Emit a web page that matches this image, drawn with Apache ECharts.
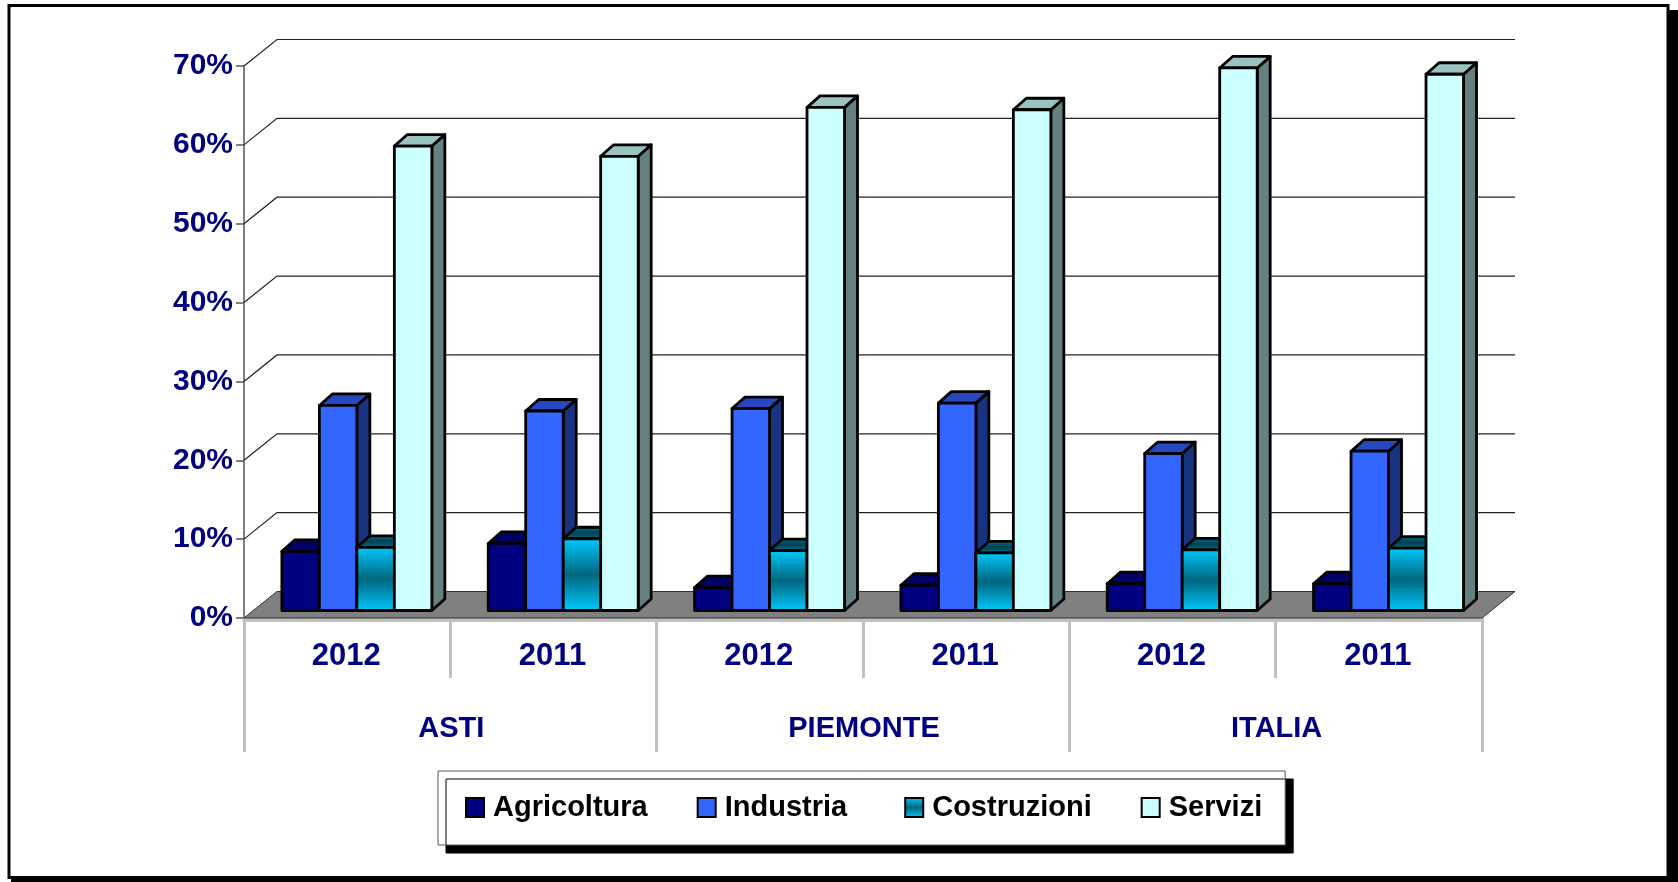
<!DOCTYPE html>
<html><head><meta charset="utf-8">
<style>html,body{margin:0;padding:0;background:#fff}#c{width:1678px;height:882px}</style>
<script src="https://cdn.jsdelivr.net/npm/echarts@6/dist/echarts.min.js"></script>
</head><body><div id="c"></div>
<script>
const years = ['2012','2011','2012','2011','2012','2011'];
const areas = ['ASTI','PIEMONTE','ITALIA'];
const yTicks = [0,10,20,30,40,50,60,70];
const agricoltura = [7.5,8.5,2.9,3.2,3.4,3.4];
const industria = [26.0,25.3,25.6,26.3,19.9,20.2];
const costruzioni = [8.0,9.1,7.6,7.3,7.7,7.9];
const servizi = [58.9,57.6,63.8,63.5,68.8,68.0];

const NAVY='#000080', BK='#000000', FONT='Liberation Sans';
const wall={dx:33,dy:-26.5}, barDepth={dx:13,dy:-11.5}, barShift={dx:9.7,dy:-7.5};
const grad=(a,b)=>({type:'linear',x:0,y:0,x2:0,y2:1,colorStops:[{offset:0,color:a},{offset:.5,color:b},{offset:1,color:a}]});
const front=['#000080','#3366FF',grad('#00CCFF','#00667F'),'#CCFFFF'];
const topFace=['#000066','#2648C0',grad('#007A99','#004050'),'#99C2C0'];
const sideFace=['#000050','#1A3380','#00404F','#668080'];

function barSeries(name,values,idx){
  return {type:'custom',name,coordinateSystem:'cartesian2d',clip:false,xAxisIndex:0,z:3,
    data:values.map((v,i)=>[i,v]),encode:{x:0,y:1},
    itemStyle:{color:front[idx],borderColor:BK,borderWidth:2.8},
    renderItem(params,api){
      const p=api.coord([api.value(0),api.value(1)]), b=api.coord([api.value(0),0]);
      const band=api.size([1,0])[0], w=band*0.1817;
      const x0=p[0]+barShift.dx+(idx-2)*w, x1=x0+w, yt=p[1]+barShift.dy, yb=b[1]+barShift.dy;
      const d=barDepth, ls={stroke:BK,lineWidth:2.8,lineJoin:'round'};
      return {type:'group',children:[
        {type:'polygon',shape:{points:[[x1,yt],[x1+d.dx,yt+d.dy],[x1+d.dx,yb+d.dy],[x1,yb]]},style:{fill:sideFace[idx],...ls}},
        {type:'polygon',shape:{points:[[x0,yt],[x0+d.dx,yt+d.dy],[x1+d.dx,yt+d.dy],[x1,yt]]},style:{fill:topFace[idx],...ls}},
        {type:'rect',shape:{x:x0,y:yt,width:w,height:yb-yt},style:{fill:front[idx],...ls}}
      ]};
    }};
}
const wallSeries={type:'custom',silent:true,clip:false,z:1,data:yTicks.map(v=>[0,v]),encode:{x:0,y:1},
  renderItem(params,api){
    const v=api.value(1), a=api.coord([0,v]), band=api.size([1,0])[0];
    const xl=a[0]-band/2, y=a[1], xr=xl+band*years.length;
    const kids=[];
    if(v===0) kids.push({type:'polygon',shape:{points:[[xl,y],[xr,y],[xr+wall.dx,y+wall.dy],[xl+wall.dx,y+wall.dy]]},style:{fill:'#808080',stroke:'#333',lineWidth:1}});
    else kids.push({type:'polyline',shape:{points:[[xl,y],[xl+wall.dx,y+wall.dy],[xr+wall.dx,y+wall.dy]]},style:{fill:'none',stroke:'#222',lineWidth:1.2}});
    return {type:'group',children:kids};
  }};

const chart=echarts.init(document.getElementById('c'),null,{renderer:'canvas'});
const xCommon={type:'category',position:'bottom',offset:2,boundaryGap:true,
  axisLine:{show:true,lineStyle:{color:'#C0C0C0',width:3}},
  axisLabel:{interval:0,color:NAVY,fontFamily:FONT,fontWeight:'bold',fontSize:31}};
const legendText={color:BK,fontFamily:FONT,fontWeight:'bold',fontSize:29};
chart.setOption({
  animation:false,backgroundColor:'#fff',
  graphic:[
    {type:'rect',z:-10,shape:{x:11,y:10,width:1667,height:872},style:{fill:BK}},
    {type:'rect',z:-9,shape:{x:9,y:5.5,width:1659,height:872},style:{fill:'#fff',stroke:BK,lineWidth:3}}
  ],
  grid:{left:244,top:66,width:1238,height:552,containLabel:false},
  legend:{data:['Agricoltura','Industria','Costruzioni','Servizi'],
    left:438,top:771,orient:'horizontal',icon:'rect',itemWidth:18,itemHeight:19,itemGap:49,
    padding:[22,23,23,27],backgroundColor:'#fff',borderColor:'#555',borderWidth:1,
    shadowColor:BK,shadowBlur:0,shadowOffsetX:8,shadowOffsetY:8,
    formatter:n=>n==='Industria'?`{t|${n}}{g|\u00a0}`:`{t|${n}}`,
    textStyle:{...legendText,rich:{
      t:{...legendText,padding:[0,0,0,4]},
      g:{...legendText,fontWeight:'normal'}}}},
  xAxis:[
    {...xCommon,data:years,axisTick:{show:true,alignWithLabel:false,length:60,lineStyle:{color:'#C0C0C0',width:3}},
      axisLabel:{...xCommon.axisLabel,margin:21,padding:[0,2,0,0]}},
    {...xCommon,data:areas,axisTick:{show:true,alignWithLabel:false,length:132,lineStyle:{color:'#C0C0C0',width:3}},
      axisLabel:{...xCommon.axisLabel,fontSize:29,margin:94,padding:[0,0,0,2]}}
  ],
  yAxis:{type:'value',min:0,max:70,interval:10,
    axisLine:{show:true,lineStyle:{color:'#808080',width:2}},
    axisTick:{show:true,length:8,lineStyle:{color:'#555',width:1.5}},
    splitLine:{show:false},
    axisLabel:{formatter:'{value}%',margin:11,color:NAVY,fontFamily:FONT,fontWeight:'bold',fontSize:30,padding:[0,0,7,0]}},
  series:[wallSeries,
    barSeries('Agricoltura',agricoltura,0),
    barSeries('Industria',industria,1),
    barSeries('Costruzioni',costruzioni,2),
    barSeries('Servizi',servizi,3)]
});
</script></body></html>
